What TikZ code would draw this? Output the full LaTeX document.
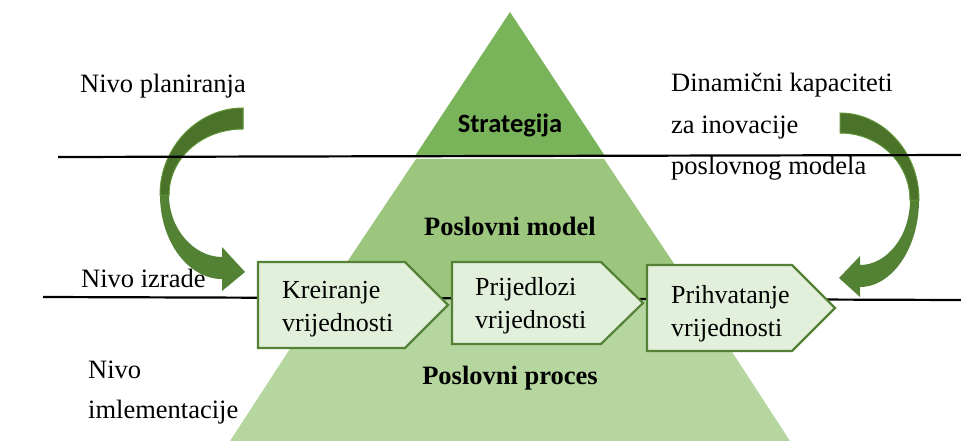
\documentclass[tikz,border=0pt]{standalone}
\usepackage{fontspec}
\setmainfont{Liberation Serif}
\newfontfamily\labelsans{Carlito}
\definecolor{tipgreen}{HTML}{7AB45A}
\definecolor{midgreen}{HTML}{9CC67E}
\definecolor{basegreen}{HTML}{B6D6A0}
\definecolor{arrowgreen}{HTML}{548235}
\definecolor{arrowdark}{HTML}{4A7229}
\definecolor{arrowedge}{HTML}{5F9438}
\definecolor{stageline}{HTML}{538135}
\definecolor{stagefill}{HTML}{E2EFDA}
\begin{document}
\begin{tikzpicture}[x=1pt,y=-1pt,
  txt/.style={font=\fontsize{26.5}{30}\selectfont, anchor=base west, inner sep=0pt},
  boldtxt/.style={font=\fontsize{26.5}{30}\selectfont\bfseries, anchor=base, inner sep=0pt},
  stagetxt/.style={font=\fontsize{26}{30}\selectfont, anchor=base west, inner sep=0pt},
  stagebox/.style={draw=stageline, line width=2.2pt, fill=stagefill, line join=miter},
  divider/.style={draw=black, line width=2.2pt},
  curvearrow/.style={fill=arrowgreen},
  curveback/.style={fill=arrowdark, draw=arrowedge, line width=1pt}]
\useasboundingbox (0,0) rectangle (961,441);

% pyramid levels
\fill[basegreen] (323,298) -- (697,298) -- (790,441) -- (230,441) -- cycle;
\fill[midgreen] (416,159) -- (604,159) -- (697,298) -- (323,298) -- cycle;
\fill[tipgreen] (510,12) -- (605,156) -- (415,156) -- cycle;

% left curved arrow
\path[curvearrow] (243,108) .. controls (198,108) and (160,147) .. (160,195)
  .. controls (160,241) and (188,279) .. (222,279) -- (222,291) -- (245,272)
  -- (222,247) -- (222,257) .. controls (194,257) and (169,229) .. (169,195)
  .. controls (169,159) and (201,129) .. (243,129) -- cycle;
\path[curveback] (243,108) .. controls (198,108) and (160,147) .. (160,195)
  -- (169,195) .. controls (169,159) and (201,129) .. (243,129) -- cycle;

% right curved arrow
\path[curvearrow] (840,113) .. controls (883,113) and (919,152) .. (919,200)
  .. controls (919,248) and (892,287) .. (860,287) -- (860,297) -- (839,278)
  -- (860,256) -- (860,265) .. controls (887,265) and (910,236) .. (910,200)
  .. controls (910,163) and (879,133) .. (840,133) -- cycle;
\path[curveback] (840,113) .. controls (883,113) and (919,152) .. (919,200)
  -- (910,200) .. controls (910,163) and (879,133) .. (840,133) -- cycle;

% level dividers
\coordinate (d1a) at (58,157);
\coordinate (d1b) at (961,155);
\coordinate (d2a) at (43,297);
\coordinate (d2b) at (961,300);
\draw[divider] (d1a) -- (d1b);
\draw[divider] (d2a) -- (d2b);

% value stages
\path[stagebox] (258,262) -- (405,262) -- (448,305) -- (405,348) -- (258,348) -- cycle;
\path[stagebox] (452,262) -- (601,262) -- (643,303) -- (601,344) -- (452,344) -- cycle;
\path[stagebox] (647,265) -- (792,265) -- (835,308) -- (792,351) -- (647,351) -- cycle;

\node[stagetxt] (s1a) at (282,298) {Kreiranje};
\node[stagetxt] (s1b) at (282,331) {vrijednosti};
\node[stagetxt] (s2a) at (475,295) {Prijedlozi};
\node[stagetxt] (s2b) at (475,328) {vrijednosti};
\node[stagetxt] (s3a) at (671,303) {Prihvatanje};
\node[stagetxt] (s3b) at (671,336) {vrijednosti};

% pyramid labels
\node[font=\labelsans\fontsize{26.5}{30}\selectfont\bfseries, anchor=base, inner sep=0pt] (strat) at (510,133) {Strategija};
\node[boldtxt] (model) at (510,235) {Poslovni model};
\node[boldtxt] (proces) at (510,384) {Poslovni proces};

% level labels
\node[txt] (plan) at (80,93) {Nivo planiranja};
\node[txt] (izrada) at (81,287) {Nivo izrade};
\node[txt] (impl1) at (88,378) {Nivo};
\node[txt] (impl2) at (88,418) {imlementacije};
\node[txt] (dyn1) at (671,92) {Dinamični kapaciteti};
\node[txt] (dyn2) at (671,134) {za inovacije};
\node[txt] (dyn3) at (671,175) {poslovnog modela};
\end{tikzpicture}
\end{document}
